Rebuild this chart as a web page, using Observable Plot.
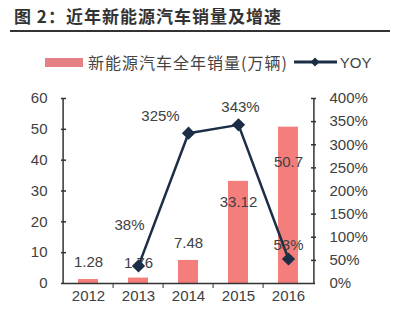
<!DOCTYPE html>
<html><head><meta charset="utf-8">
<script src="https://cdn.jsdelivr.net/npm/d3@7"></script>
<script src="https://cdn.jsdelivr.net/npm/@observablehq/plot@0.6"></script>
<style>
body{margin:0;background:#fff;}
#wrap{position:relative;width:394px;height:320px;overflow:hidden;font-family:"Liberation Sans",Arial,sans-serif;background:#fff;}
#title{position:absolute;left:14px;top:4px;font-family:"Noto Sans CJK SC",sans-serif;font-size:17px;font-weight:bold;color:#333;letter-spacing:1px;white-space:nowrap;line-height:24px;}
#rule{position:absolute;left:10px;top:30px;width:380px;height:1.5px;background:#333;}
#legend{position:absolute;top:52px;left:45px;height:20px;display:flex;align-items:center;font-size:15px;color:#444;white-space:nowrap;}
#legend .sw{display:inline-block;width:38px;height:9px;background:#E58084;margin-right:5px;}
#legend .cjk{font-family:"Noto Sans CJK SC",sans-serif;font-size:16px;letter-spacing:1px;}
#chart{position:absolute;left:0;top:0;}
</style></head>
<body>
<div id="wrap">
  <div id="chart"></div>
  <div id="title">图 2：近年新能源汽车销量及增速</div>
  <div id="rule"></div>
  <div id="legend">
    <span class="sw"></span><span class="cjk">新能源汽车全年销量(万辆)</span>
    <svg width="45" height="12" style="margin-left:6px;margin-right:1px"><line x1="0" y1="6" x2="43" y2="6" stroke="#1C2E45" stroke-width="3"/><path d="M21,1.5L25.5,6L21,10.5L16.5,6Z" fill="#1C2E45"/></svg><span>YOY</span>
  </div>
</div>
<script>
const years = ["2012","2013","2014","2015","2016"];
const sales = [1.28, 1.76, 7.48, 33.12, 50.7];
const yoyYears = ["2013","2014","2015","2016"];
const yoy = [38, 325, 343, 53];
const leftTicks = [0,10,20,30,40,50,60];
const rightTicks = [0,50,100,150,200,250,300,350,400];

const W=394, H=320, mL=61, mR=79, mT=98, mB=37;
const step = (W-mL-mR)/years.length;
const k = 60/400;
const navy = "#1C2E45";
const axisColor = "#333";
const barLabelDy = [-17,-15,-17,21,35];
const yoyLabelDx = [-9,-28,2,0];
const yoyLabelDy = [-41,-17,-18,-14];

const salesData = years.map((year,i)=>({year, value: sales[i]}));
const yoyData = yoyYears.map((year,i)=>({year, value: yoy[i]}));

const chart = Plot.plot({
  width: W, height: H,
  marginLeft: mL, marginRight: mR, marginTop: mT, marginBottom: mB,
  style: {fontFamily: '"Liberation Sans", Arial, sans-serif', fontSize: "15px", color: "#404040", background: "transparent"},
  x: {domain: years, padding: 0, label: null},
  y: {domain: [0, 60], label: null},
  marks: [
    Plot.barY(salesData, {x: "year", y: "value", fill: "#F47E7C", insetLeft: 15, insetRight: 15}),
    ...salesData.map((d,i)=>Plot.text([d], {x: "year", y: "value", text: d=>String(d.value), dy: barLabelDy[i], fill: "#404040", fontSize: 15})),
    Plot.ruleY([0], {stroke: axisColor, strokeWidth: 1.5}),
    Plot.ruleX([years[0]], {dx: -step/2, stroke: axisColor, strokeWidth: 1.5}),
    Plot.ruleX([years[years.length-1]], {dx: step/2, stroke: axisColor, strokeWidth: 1.5}),
    Plot.axisX({ticks: years, tickSize: 0, tickPadding: 7, fontSize: 15, fill: "#404040", label: null}),
    Plot.axisX({ticks: years.slice(1), text: null, tickSize: 5, dx: -step/2, stroke: axisColor, label: null}),
    Plot.axisY({anchor: "left", ticks: leftTicks, tickSize: 0, tickPadding: 14, fontSize: 15, fill: "#404040", label: null}),
    Plot.axisY({anchor: "left", ticks: leftTicks.slice(1), text: null, tickSize: -5, stroke: axisColor, strokeWidth: 1.5, label: null}),
    Plot.axisY({anchor: "right", ticks: rightTicks.map(v=>v*k), tickSize: 0, tickPadding: 14, fontSize: 15, fill: "#404040", tickFormat: d => Math.round(d/k) + "%", label: null}),
    Plot.axisY({anchor: "right", ticks: rightTicks.slice(1).map(v=>v*k), text: null, tickSize: -5, stroke: axisColor, strokeWidth: 1.5, label: null}),
    Plot.line(yoyData, {x: "year", y: d=>d.value*k, stroke: navy, strokeWidth: 2.5}),
    Plot.dot(yoyData, {x: "year", y: d=>d.value*k, symbol: "diamond2", r: 5, fill: navy, stroke: navy}),
    ...yoyData.map((d,i)=>Plot.text([d], {x: "year", y: d=>d.value*k, text: d=>d.value+"%", dx: yoyLabelDx[i], dy: yoyLabelDy[i], fill: "#404040", fontSize: 15}))
  ]
});
document.getElementById("chart").appendChild(chart);
</script>
</body></html>
